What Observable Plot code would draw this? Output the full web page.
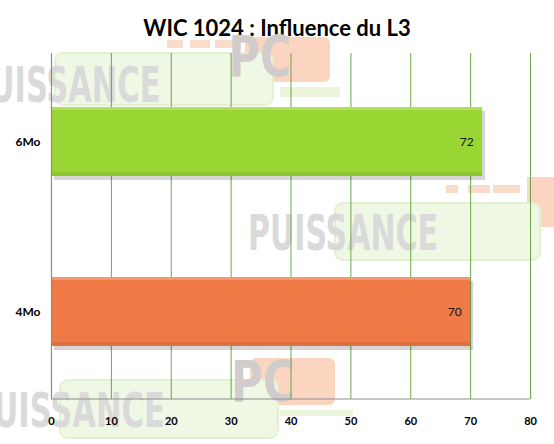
<!DOCTYPE html>
<html><head><meta charset="utf-8">
<script src="https://cdn.jsdelivr.net/npm/d3@7"></script>
<script src="https://cdn.jsdelivr.net/npm/@observablehq/plot@0.6"></script>
<style>
body{margin:0;background:#fff;width:554px;height:444px;overflow:hidden;font-family:Lato,"Open Sans",sans-serif}
#title{height:50px;line-height:56px;text-align:center;font-weight:bold;font-size:22px;color:#000;font-family:Lato,"Open Sans",sans-serif}
</style></head>
<body>
<div id="title">WIC 1024 : Influence du L3</div>
<div id="chart"></div>
<script>
const categories = ["6Mo", "4Mo"];
const values = [72, 70];
const barColors = ["#9ad633", "#ef7a45"];
const xTicks = [0, 10, 20, 30, 40, 50, 60, 70, 80];

const data = categories.map((c, i) => ({cat: c, value: values[i], color: barColors[i]}));

// decorative "PUISSANCE PC" watermarks (page coordinates, shifted into the SVG which starts 50px down)
const watermarkSVG = `
  <g fill="#fbdccb">
    <rect x="167" y="40" width="16" height="8"/><rect x="190" y="40" width="20" height="8"/><rect x="215" y="40" width="26" height="8"/>
    <rect x="245" y="37" width="85" height="45" rx="6" fill="#fbd5c0"/>
    <rect x="446" y="185" width="12" height="8"/><rect x="468" y="185" width="22" height="8"/><rect x="493" y="185" width="27" height="8"/>
    <rect x="527" y="177" width="27" height="50" fill="#fbd5c0"/>
    <rect x="250" y="358" width="85" height="47" rx="6" fill="#fbd5c0"/>
  </g>
  <g fill="#eaf5dc">
    <rect x="280" y="87" width="60" height="10"/>
    <rect x="280" y="410" width="73" height="6"/>
  </g>
  <g fill="#eff8e4" stroke="#e2f1cf" stroke-width="2">
    <rect x="55" y="53" width="218" height="52" rx="8"/>
    <rect x="335" y="203" width="205" height="57" rx="8"/>
    <rect x="60" y="380" width="218" height="58" rx="8"/>
  </g>
  <g fill="#dadada" font-family="'Liberation Sans Narrow','DejaVu Sans Condensed',sans-serif" font-weight="bold" font-size="33">
    <text transform="translate(64,102) scale(1,1.5)" textLength="193" lengthAdjust="spacingAndGlyphs">PUISSANCE</text>
    <text transform="translate(343,250) scale(1,1.5)" textLength="190" lengthAdjust="spacingAndGlyphs">PUISSANCE</text>
    <text transform="translate(68,427) scale(1,1.45)" textLength="194" lengthAdjust="spacingAndGlyphs">PUISSANCE</text>
  </g>
  <g fill="#d2cccc" font-family="'Liberation Sans Narrow','DejaVu Sans Condensed',sans-serif" font-weight="bold" font-size="44">
    <text transform="translate(260,77) scale(1,1.3)" textLength="63" lengthAdjust="spacingAndGlyphs">PC</text>
    <text transform="translate(263,402) scale(1,1.3)" textLength="64" lengthAdjust="spacingAndGlyphs">PC</text>
  </g>`;

function watermarks() {
  const g = document.createElementNS("http://www.w3.org/2000/svg", "g");
  g.setAttribute("transform", "translate(0,-50)");
  g.innerHTML = watermarkSVG;
  return g;
}

// bottom axis line drawn from the x scale and frame dimensions
function bottomAxisLine(index, scales, values, dims) {
  const y = dims.height - dims.marginBottom;
  return d3.create("svg:line")
    .attr("x1", scales.x(xTicks[0])).attr("x2", scales.x(xTicks[xTicks.length - 1]))
    .attr("y1", y).attr("y2", y)
    .attr("stroke", "#8c8c8c").attr("stroke-width", 1.2)
    .node();
}

const chart = Plot.plot({
  width: 554,
  height: 394,
  marginTop: 3,
  marginBottom: 45,
  marginLeft: 51,
  marginRight: 24,
  style: {background: "transparent", fontFamily: "Lato, 'Open Sans', sans-serif", overflow: "visible"},
  x: {domain: [0, 80], ticks: xTicks},
  y: {domain: categories, paddingInner: 0.595, paddingOuter: 0.31},
  marks: [
    watermarks,
    Plot.gridX(xTicks, {stroke: "#5e9e36", strokeOpacity: 0.9, strokeWidth: 1}),
    Plot.barX(data, {y: "cat", x: "value", fill: "#000", fillOpacity: 0.16, dx: 3, dy: 4}),
    Plot.barX(data, {y: "cat", x: "value", fill: "color"}),
    Plot.barX(data, {y: "cat", x: "value", fill: "#fff", fillOpacity: 0.22, insetBottom: 66}),
    Plot.barX(data, {y: "cat", x: "value", fill: "#000", fillOpacity: 0.08, insetTop: 65}),
    Plot.text(data, {y: "cat", x: "value", text: d => String(d.value), dx: -9, textAnchor: "end", fontSize: 12, fill: "#111"}),
    Plot.ruleX([0], {stroke: "#8c8c8c", strokeWidth: 1.2}),
    bottomAxisLine,
    Plot.axisX({ticks: xTicks, tickSize: 0, tickPadding: 18, fontWeight: "bold", fontSize: 11, fill: "#000", label: null}),
    Plot.axisY({tickSize: 0, tickPadding: 11, fontWeight: "bold", fontSize: 12, fill: "#000", label: null})
  ]
});
document.getElementById("chart").appendChild(chart);
</script>
</body></html>
